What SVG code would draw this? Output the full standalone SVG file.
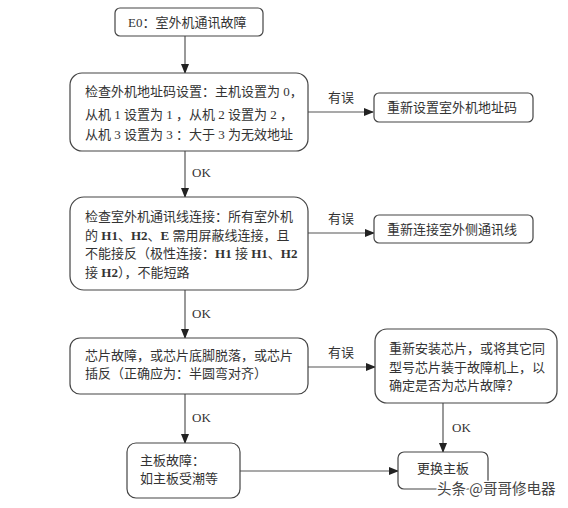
<svg xmlns="http://www.w3.org/2000/svg" width="568" height="508" viewBox="0 0 568 508">
<defs>
<marker id="ah" markerWidth="10" markerHeight="8" refX="9" refY="4" orient="auto" markerUnits="userSpaceOnUse">
<path d="M0,0 L10,4 L0,8 Z" fill="#222"/>
</marker>
<style>
.box{fill:#fff;stroke:#444;stroke-width:1.2}
.t{font-family:"Liberation Serif","Noto Sans CJK SC",serif;font-size:13px;fill:#333}
.l{font-family:"Liberation Serif","Noto Sans CJK SC",serif;font-size:13px;fill:#333}
.c{stroke:#555;stroke-width:1.2;fill:none;marker-end:url(#ah)}
.wm{font-family:"Noto Sans CJK SC",sans-serif;font-size:14.5px;fill:#444;stroke:#fff;stroke-width:2.5;paint-order:stroke}
</style>
</defs>
<rect width="568" height="508" fill="#fff"/>
<g id="connectors">
<path class="c" d="M185,36 V73"/>
<path class="c" d="M308,112 H373"/>
<path class="c" d="M185,151 V197"/>
<path class="c" d="M308,233 H374"/>
<path class="c" d="M185,290 V338"/>
<path class="c" d="M308,367 H375"/>
<path class="c" d="M185,394 V443"/>
<path class="c" d="M443,403 V452"/>
<path class="c" d="M240,471 H398"/>
<text class="l" x="328" y="102">有误</text>
<text class="l" x="192" y="177">OK</text>
<text class="l" x="328" y="223">有误</text>
<text class="l" x="192" y="318">OK</text>
<text class="l" x="328" y="357">有误</text>
<text class="l" x="192" y="422">OK</text>
<text class="l" x="452" y="432">OK</text>
</g>
<g id="n1">
<rect class="box" x="115" y="8" width="148" height="28" rx="5"/>
<text class="t" x="128" y="27">E0：室外机通讯故障</text>
</g>
<g id="n2">
<rect class="box" x="70" y="73" width="238" height="78" rx="12"/>
<text class="t" x="85" y="96">检查外机地址码设置：主机设置为 0，</text>
<text class="t" x="85" y="119">从机 1 设置为 1 ，从机 2 设置为 2 ，</text>
<text class="t" x="85" y="139">从机 3 设置为 3 ：大于 3 为无效地址</text>
</g>
<g id="n3">
<rect class="box" x="374" y="93" width="159" height="29" rx="5"/>
<text class="t" x="387" y="112">重新设置室外机地址码</text>
</g>
<g id="n4">
<rect class="box" x="70" y="197" width="238" height="93" rx="14"/>
<text class="t" x="85" y="221">检查室外机通讯线连接：所有室外机</text>
<text class="t" x="85" y="240">的 <tspan font-weight="bold">H1</tspan>、<tspan font-weight="bold">H2</tspan>、<tspan font-weight="bold">E</tspan> 需用屏蔽线连接，且</text>
<text class="t" x="85" y="258">不能接反（极性连接：<tspan font-weight="bold">H1</tspan> 接 <tspan font-weight="bold">H1</tspan>、<tspan font-weight="bold">H2</tspan></text>
<text class="t" x="85" y="277">接 <tspan font-weight="bold">H2</tspan>），不能短路</text>
</g>
<g id="n5">
<rect class="box" x="374" y="215" width="159" height="28" rx="5"/>
<text class="t" x="387" y="234">重新连接室外侧通讯线</text>
</g>
<g id="n6">
<rect class="box" x="70" y="338" width="238" height="56" rx="10"/>
<text class="t" x="85" y="360">芯片故障，或芯片底脚脱落，或芯片</text>
<text class="t" x="85" y="378">插反（正确应为：半圆弯对齐）</text>
</g>
<g id="n7">
<rect class="box" x="375" y="329" width="182" height="74" rx="12"/>
<text class="t" x="389" y="353">重新安装芯片，或将其它同</text>
<text class="t" x="389" y="372">型号芯片装于故障机上，以</text>
<text class="t" x="389" y="390">确定是否为芯片故障？</text>
</g>
<g id="n8">
<rect class="box" x="127" y="443" width="113" height="55" rx="9"/>
<text class="t" x="140" y="465">主板故障：</text>
<text class="t" x="140" y="483">如主板受潮等</text>
</g>
<g id="n9">
<rect class="box" x="398" y="452" width="90" height="37" rx="6"/>
<text class="t" x="417" y="473">更换主板</text>
</g>
<text class="wm" x="437" y="494">头条 @哥哥修电器</text>
</svg>
